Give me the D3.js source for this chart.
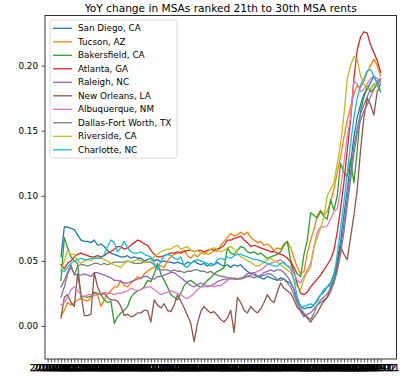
<!DOCTYPE html>
<html>
<head>
<meta charset="utf-8">
<script src="https://cdn.jsdelivr.net/npm/d3@7/dist/d3.min.js"></script>
<style>
  html, body { margin: 0; padding: 0; background: #fff; }
  svg { display: block; }
  text { font-family: "DejaVu Sans", sans-serif; }
</style>
</head>
<body>
<div id="chart"></div>
<script>
// ---- data ----
const title = "YoY change in MSAs ranked 21th to 30th MSA rents";

const categories = [
  "2014-09","2014-10","2014-11","2014-12",
  "2015-01","2015-02","2015-03","2015-04","2015-05","2015-06","2015-07","2015-08","2015-09","2015-10","2015-11","2015-12",
  "2016-01","2016-02","2016-03","2016-04","2016-05","2016-06","2016-07","2016-08","2016-09","2016-10","2016-11","2016-12",
  "2017-01","2017-02","2017-03","2017-04","2017-05","2017-06","2017-07","2017-08","2017-09","2017-10","2017-11","2017-12",
  "2018-01","2018-02","2018-03","2018-04","2018-05","2018-06","2018-07","2018-08","2018-09","2018-10","2018-11","2018-12",
  "2019-01","2019-02","2019-03","2019-04","2019-05","2019-06","2019-07","2019-08","2019-09","2019-10","2019-11","2019-12",
  "2020-01","2020-02","2020-03","2020-04","2020-05","2020-06","2020-07","2020-08","2020-09","2020-10","2020-11","2020-12",
  "2021-01","2021-02","2021-03","2021-04","2021-05","2021-06","2021-07","2021-08","2021-09","2021-10","2021-11","2021-12",
  "2022-01","2022-02","2022-03","2022-04","2022-05","2022-06","2022-07","2022-08","2022-09","2022-10","2022-11","2022-12",
  "2023-01"
];

const seriesNames = ["San Diego, CA","Tucson, AZ","Bakersfield, CA","Atlanta, GA","Raleigh, NC",
  "New Orleans, LA","Albuquerque, NM","Dallas-Fort Worth, TX","Riverside, CA","Charlotte, NC"];

const sanDiego = [null,null,null,null,
  0.053,0.076,0.076,0.075,0.074,0.070,0.066,0.065,0.065,0.064,
  0.066,0.062,0.063,0.061,0.058,0.056,0.055,0.054,0.053,0.053,
  0.054,0.052,0.053,0.052,0.052,0.050,0.051,0.052,0.050,0.051,
  0.049,0.050,0.049,0.049,0.048,0.049,0.048,0.047,0.049,0.048,
  0.050,0.048,0.047,0.048,0.046,0.048,0.047,0.049,0.047,0.046,
  0.047,0.045,0.047,0.046,0.047,0.044,0.042,0.040,0.041,0.038,
  0.037,0.036,0.038,0.037,0.036,0.035,0.037,0.036,0.034,0.033,
  0.028,0.020,0.015,0.013,0.014,0.014,0.016,0.020,0.024,0.026,
  0.030,0.033,0.040,0.050,0.065,0.085,0.105,0.125,0.145,0.160,
  0.170,0.178,0.182,0.187,0.192,0.186,0.180];

const tucson = [null,null,null,null,
  0.008,0.012,0.018,0.016,0.018,0.020,0.021,0.020,0.019,0.022,
  0.025,0.024,0.015,0.020,0.025,0.027,0.030,0.030,0.035,0.031,
  0.030,0.033,0.035,0.038,0.036,0.040,0.042,0.044,0.045,0.047,
  0.046,0.045,0.050,0.053,0.055,0.056,0.057,0.058,0.054,0.052,
  0.055,0.053,0.056,0.057,0.055,0.056,0.058,0.057,0.062,0.065,
  0.068,0.071,0.069,0.070,0.072,0.070,0.072,0.068,0.066,0.064,
  0.065,0.062,0.063,0.061,0.058,0.060,0.059,0.063,0.065,0.060,
  0.052,0.045,0.040,0.042,0.056,0.066,0.074,0.085,0.089,0.085,
  0.088,0.095,0.105,0.118,0.130,0.145,0.158,0.168,0.178,0.185,
  0.183,0.188,0.195,0.200,0.205,0.200,0.192];

const bakersfield = [null,null,null,null,
  0.035,0.068,0.060,0.053,0.050,0.048,0.022,0.023,0.022,0.023,
  0.026,0.025,0.024,0.020,0.018,0.019,0.002,0.007,0.010,0.012,
  0.015,0.022,0.025,0.027,0.028,0.030,0.035,0.034,0.040,0.048,
  0.040,0.035,0.030,0.024,0.022,0.020,0.025,0.031,0.034,0.035,
  0.033,0.031,0.030,0.032,0.035,0.037,0.040,0.042,0.043,0.045,
  0.060,0.056,0.055,0.058,0.061,0.060,0.057,0.056,0.057,0.055,
  0.056,0.054,0.052,0.053,0.054,0.055,0.057,0.062,0.065,0.050,
  0.045,0.040,0.038,0.055,0.066,0.087,0.085,0.083,0.088,0.084,
  0.082,0.097,0.089,0.100,0.125,0.118,0.115,0.128,0.110,0.135,
  0.165,0.176,0.184,0.180,0.182,0.188,0.190];

const atlanta = [null,null,null,null,
  0.047,0.044,0.048,0.050,0.053,0.055,0.056,0.055,0.054,0.053,
  0.053,0.054,0.053,0.054,0.056,0.057,0.059,0.061,0.061,0.059,
  0.060,0.062,0.064,0.066,0.065,0.063,0.062,0.058,0.055,0.053,
  0.053,0.054,0.055,0.056,0.056,0.057,0.056,0.057,0.058,0.058,
  0.057,0.058,0.058,0.057,0.058,0.059,0.058,0.059,0.060,0.062,
  0.066,0.066,0.067,0.068,0.069,0.066,0.064,0.061,0.062,0.061,
  0.060,0.059,0.058,0.057,0.057,0.056,0.055,0.054,0.052,0.049,
  0.042,0.032,0.025,0.024,0.026,0.030,0.033,0.036,0.039,0.043,
  0.047,0.051,0.058,0.072,0.090,0.110,0.135,0.158,0.190,0.212,
  0.222,0.226,0.225,0.216,0.210,0.204,0.195];

const raleigh = [null,null,null,null,
  0.022,0.030,0.040,0.045,0.040,0.039,0.039,0.040,0.039,0.038,
  0.041,0.041,0.040,0.039,0.038,0.037,0.035,0.035,0.034,0.033,
  0.033,0.034,0.035,0.036,0.037,0.038,0.038,0.036,0.036,0.038,
  0.038,0.039,0.040,0.041,0.041,0.039,0.037,0.035,0.033,0.031,
  0.030,0.032,0.033,0.032,0.030,0.031,0.032,0.034,0.035,0.036,
  0.036,0.036,0.037,0.036,0.036,0.038,0.040,0.041,0.039,0.038,
  0.039,0.041,0.042,0.043,0.042,0.043,0.043,0.041,0.038,0.034,
  0.028,0.018,0.011,0.007,0.009,0.010,0.013,0.016,0.018,0.020,
  0.022,0.026,0.033,0.045,0.060,0.078,0.098,0.118,0.138,0.152,
  0.163,0.170,0.176,0.182,0.186,0.184,0.190];

const newOrleans = [null,null,null,null,
  0.006,0.022,0.024,0.018,0.015,0.040,0.025,0.008,0.008,0.009,
  0.041,0.030,0.024,0.025,0.022,0.020,0.020,0.019,0.015,0.008,
  0.009,0.007,0.008,0.010,0.010,0.012,0.012,0.003,0.020,0.016,
  0.014,0.017,0.012,0.011,0.016,0.024,0.019,0.014,0.008,0.002,
  -0.012,0.002,0.011,0.015,0.012,0.010,0.011,0.008,0.005,0.003,
  0.006,0.012,-0.005,0.022,0.018,0.012,0.010,0.015,0.012,0.010,
  0.013,0.018,0.024,0.020,0.018,0.026,0.033,0.029,0.027,0.025,
  0.020,0.014,0.012,0.009,0.006,0.003,0.007,0.010,0.015,0.019,
  0.022,0.030,0.035,0.048,0.061,0.055,0.051,0.068,0.085,0.105,
  0.135,0.160,0.175,0.170,0.162,0.180,0.186];

const albuquerque = [null,null,null,null,
  0.016,0.018,0.022,0.028,0.030,0.027,0.024,0.022,0.024,0.024,
  0.023,0.024,0.025,0.026,0.025,0.025,0.024,0.025,0.025,0.026,
  0.027,0.029,0.028,0.027,0.028,0.029,0.030,0.030,0.028,0.026,
  0.024,0.025,0.026,0.027,0.026,0.025,0.024,0.022,0.021,0.023,
  0.025,0.028,0.030,0.030,0.031,0.031,0.030,0.031,0.031,0.033,
  0.035,0.037,0.036,0.036,0.036,0.037,0.038,0.039,0.040,0.042,
  0.043,0.045,0.047,0.048,0.049,0.050,0.051,0.048,0.046,0.046,
  0.040,0.035,0.033,0.038,0.043,0.048,0.060,0.072,0.076,0.076,
  0.077,0.082,0.088,0.090,0.105,0.125,0.145,0.160,0.188,0.186,
  0.180,0.182,0.186,0.190,0.192,0.190,0.188];

const dallas = [null,null,null,null,
  0.030,0.035,0.041,0.047,0.039,0.046,0.047,0.047,0.046,0.047,
  0.048,0.048,0.047,0.048,0.047,0.048,0.049,0.049,0.049,0.049,
  0.050,0.049,0.048,0.048,0.048,0.049,0.049,0.049,0.047,0.045,
  0.043,0.043,0.043,0.042,0.043,0.042,0.042,0.041,0.042,0.042,
  0.043,0.043,0.042,0.042,0.041,0.042,0.040,0.039,0.038,0.038,
  0.037,0.037,0.036,0.036,0.037,0.037,0.038,0.038,0.037,0.038,
  0.038,0.039,0.040,0.040,0.038,0.036,0.035,0.036,0.033,0.030,
  0.024,0.017,0.013,0.010,0.007,0.005,0.010,0.016,0.020,0.022,
  0.025,0.028,0.033,0.042,0.055,0.072,0.092,0.112,0.132,0.148,
  0.158,0.165,0.170,0.176,0.182,0.186,0.188];

const riverside = [null,null,null,null,
  0.042,0.050,0.058,0.055,0.055,0.050,0.048,0.050,0.051,0.050,
  0.052,0.052,0.052,0.051,0.050,0.048,0.047,0.046,0.045,0.048,
  0.050,0.049,0.050,0.051,0.050,0.049,0.049,0.050,0.053,0.055,
  0.057,0.058,0.059,0.059,0.061,0.062,0.059,0.060,0.061,0.058,
  0.057,0.058,0.056,0.055,0.057,0.059,0.060,0.059,0.057,0.058,
  0.060,0.061,0.059,0.056,0.053,0.052,0.050,0.049,0.047,0.046,
  0.047,0.049,0.051,0.052,0.050,0.049,0.047,0.045,0.043,0.041,
  0.036,0.030,0.028,0.036,0.041,0.045,0.061,0.068,0.075,0.084,
  0.100,0.105,0.110,0.125,0.140,0.162,0.190,0.200,0.207,0.205,
  0.192,0.186,0.183,0.182,0.186,0.184,0.182];

const charlotte = [null,null,null,null,
  0.043,0.042,0.045,0.048,0.050,0.051,0.052,0.051,0.051,0.052,
  0.052,0.052,0.052,0.055,0.061,0.066,0.064,0.057,0.060,0.065,
  0.060,0.057,0.056,0.056,0.057,0.055,0.054,0.053,0.048,0.043,
  0.050,0.054,0.055,0.054,0.052,0.051,0.053,0.046,0.045,0.048,
  0.050,0.051,0.050,0.049,0.048,0.046,0.047,0.051,0.052,0.051,
  0.053,0.052,0.054,0.055,0.055,0.054,0.053,0.052,0.051,0.051,
  0.050,0.049,0.048,0.047,0.046,0.046,0.048,0.049,0.046,0.044,
  0.035,0.022,0.015,0.015,0.016,0.017,0.016,0.019,0.024,0.028,
  0.030,0.031,0.038,0.055,0.075,0.095,0.118,0.140,0.160,0.175,
  0.185,0.190,0.196,0.197,0.192,0.186,0.180];

const yTicks = [0.00, 0.05, 0.10, 0.15, 0.20];
const colors = ["#1f77b4","#ff7f0e","#2ca02c","#d62728","#9467bd",
  "#8c564b","#e377c2","#7f7f7f","#bcbd22","#17becf"];

const seriesValues = [sanDiego, tucson, bakersfield, atlanta, raleigh,
  newOrleans, albuquerque, dallas, riverside, charlotte];

// ---- layout ----
const W = 417, H = 383;
const plot = { left: 45, right: 396.5, top: 15.5, bottom: 359 };

const svg = d3.select("#chart").append("svg")
  .attr("width", W).attr("height", H);

// x: category index with matplotlib-like 5% margins around defined data
const firstDef = d3.min(seriesValues, s => s.findIndex(v => v != null));
const lastIdx = categories.length - 1;
const span = lastIdx - firstDef;
const x = d3.scaleLinear()
  .domain([firstDef - span * 0.05, lastIdx + span * 0.05])
  .range([plot.left, plot.right]);

const y = d3.scaleLinear()
  .domain([-0.0254, 0.2385])
  .range([plot.bottom, plot.top]);

// lines
const line = d3.line()
  .defined(d => d.v != null)
  .x(d => x(d.i))
  .y(d => y(d.v));

svg.append("clipPath").attr("id", "clip")
  .append("rect")
  .attr("x", plot.left).attr("y", plot.top)
  .attr("width", plot.right - plot.left).attr("height", plot.bottom - plot.top);

const gLines = svg.append("g").attr("clip-path", "url(#clip)");
seriesValues.forEach((vals, si) => {
  gLines.append("path")
    .datum(vals.map((v, i) => ({ i, v })))
    .attr("fill", "none")
    .attr("stroke", colors[si])
    .attr("stroke-width", 1.3)
    .attr("stroke-linejoin", "round")
    .attr("stroke-linecap", "square")
    .attr("d", line);
});

// axes
const xAxis = d3.axisBottom(x)
  .tickValues(d3.range(categories.length))
  .tickFormat(i => categories[i])
  .tickSize(3.5).tickPadding(2).tickSizeOuter(0);
const gx = svg.append("g")
  .attr("transform", `translate(0,${plot.bottom})`)
  .call(xAxis);
gx.select(".domain").remove();
gx.selectAll(".tick line").attr("stroke", "#000").attr("stroke-width", 0.7);
gx.selectAll(".tick text")
  .attr("fill", "#000")
  .attr("stroke", "#000")
  .attr("stroke-width", 0.25)
  .style("font-family", "DejaVu Sans")
  .style("font-size", "8.8px");

const yAxis = d3.axisLeft(y)
  .tickValues(yTicks)
  .tickFormat(d3.format(".2f"))
  .tickSize(3.5).tickPadding(3.5).tickSizeOuter(0);
const gy = svg.append("g")
  .attr("transform", `translate(${plot.left},0)`)
  .call(yAxis);
gy.select(".domain").remove();
gy.selectAll(".tick line").attr("stroke", "#000").attr("stroke-width", 0.7);
gy.selectAll(".tick text")
  .attr("fill", "#000")
  .style("font-family", "DejaVu Sans")
  .style("font-size", "8.8px");

// frame
svg.append("rect")
  .attr("x", plot.left).attr("y", plot.top)
  .attr("width", plot.right - plot.left).attr("height", plot.bottom - plot.top)
  .attr("fill", "none").attr("stroke", "#000").attr("stroke-width", 0.8);

// title
svg.append("text")
  .attr("x", (plot.left + plot.right) / 2)
  .attr("y", 12)
  .attr("text-anchor", "middle")
  .style("font-size", "10.6px")
  .attr("fill", "#000")
  .text(title);

// legend
const leg = { x: 50, y: 20, w: 127, h: 138, row: 13.5, first: 28.3 };
svg.append("rect")
  .attr("x", leg.x).attr("y", leg.y).attr("width", leg.w).attr("height", leg.h)
  .attr("rx", 2.5)
  .attr("fill", "#fff").attr("fill-opacity", 0.8)
  .attr("stroke", "#d0d0d0").attr("stroke-width", 0.8);
const gl = svg.append("g");
seriesNames.forEach((name, si) => {
  const yy = leg.first + si * leg.row;
  gl.append("line")
    .attr("x1", leg.x + 3).attr("x2", leg.x + 22)
    .attr("y1", yy).attr("y2", yy)
    .attr("stroke", colors[si]).attr("stroke-width", 1.3);
  gl.append("text")
    .attr("x", leg.x + 28).attr("y", yy)
    .attr("dy", "0.35em")
    .style("font-size", "8.8px")
    .attr("fill", "#000")
    .text(name);
});
</script>
</body>
</html>
